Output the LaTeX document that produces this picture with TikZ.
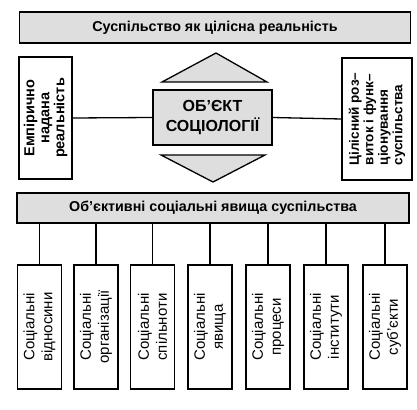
\documentclass[tikz,border=0pt]{standalone}
\usepackage{fontspec}
\setmainfont{Liberation Sans}
\begin{document}
\begin{tikzpicture}[x=1pt,y=-1pt, line width=1.3pt,
 graybox/.style={draw, fill=black!13, font=\bfseries\fontsize{14.3}{16}\selectfont, inner sep=0pt},
 sidebox/.style={draw, fill=white, rotate=90, font=\bfseries\fontsize{14.5}{15}\selectfont, align=center, inner sep=0pt},
 leafbox/.style={draw, fill=white, rotate=90, minimum width=124pt, minimum height=44pt, font=\fontsize{15}{18}\selectfont, align=center, inner sep=0pt},
 tri/.style={draw, fill=black!13}]
\useasboundingbox (0,0) rectangle (417,409);
\node[graybox, minimum width=391pt, minimum height=31pt] (top) at (215,27.5) {Суспільство як цілісна реальність};
\node[sidebox, minimum width=122pt, minimum height=53pt] (left) at (45.5,118) {Емпірично\\надана\\реальність};
\node[sidebox, minimum width=122pt, minimum height=70pt, align=left, font=\bfseries\fontsize{13.5}{14.5}\selectfont] (right) at (377,119) {Цілісний роз–\\виток і функ–\\ціонування\\суспільства};
\draw[tri] (162,82) -- (216,53) -- (267,82) -- cycle;
\draw[tri] (161,155) -- (265,155) -- (213,182) -- cycle;
\node[graybox, minimum width=119pt, minimum height=55pt, align=center, font=\bfseries\fontsize{16}{20}\selectfont] (obj) at (212.5,117.5) {ОБ'ЄКТ\\СОЦІОЛОГІЇ};
\draw (left.south) -- (obj.west);
\draw (obj.east) -- (right.north);
\node[graybox, minimum width=392pt, minimum height=30pt] (mid) at (213,208) {Об'єктивні соціальні явища суспільства};
\foreach \i/\x/\t in {1/39.5/відносини, 2/96/організації, 3/152.5/спільноти, 4/210/явища, 5/268/процеси, 6/326/інститути, 7/385/суб'єкти}{
  \node[leafbox] (l\i) at (\x,327) {Соціальні\\\t};
  \draw (mid.south -| l\i.east) -- (l\i.east);
}
\end{tikzpicture}
\end{document}
